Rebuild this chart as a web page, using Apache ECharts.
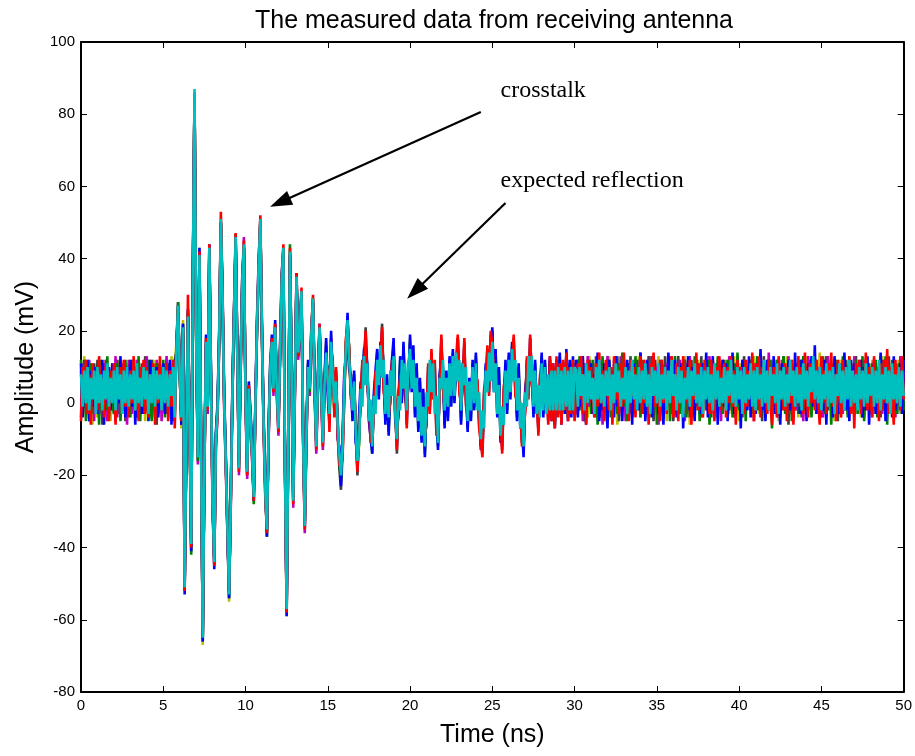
<!DOCTYPE html>
<html><head><meta charset="utf-8">
<script src="https://cdn.jsdelivr.net/npm/echarts@6/dist/echarts.min.js"></script>
<style>html,body{margin:0;padding:0;background:#fff}#c{width:915px;height:756px}</style>
</head><body><div id="c"></div>
<script>
// sampling grid: 0 .. 50 ns, 0.1 ns per sample (501 samples per trace)
const timeStepNs = 0.1;
const xRange = {min: 0, max: 50, interval: 5};
const yRange = {min: -80, max: 100, interval: 20};

const traceYellow = [
10,1,13,-3,8,2,11,-6,9,0,
-4,10,2,9,-1,12,0,8,-5,11,
2,10,-1,12,-4,9,1,11,-2,10,
11,-2,8,1,12,-3,10,0,9,-5,
8,0,11,-1,12,-3,9,2,10,0,
-2,11,0,9,-4,13,-1,10,
17,26,9,-7,23,-52,-11,25,-5,-41,
34,85,19,-14,43,-12,-67,-17,18,0,
44,6,-27,-45,-10,-1,19,50,31,2,
-15,-35,-55,-27,2,25,45,15,-17,10,
34,44,3,-18,5,-3,-13,-26,0,22,
38,50,20,-5,-24,-36,-8,10,18,5,
22,5,-6,15,35,42,-17,-59,-8,41,
10,-26,5,35,15,20,31,-8,-34,-8,
11,5,20,29,5,-11,7,21,5,-10,
6,
17,3,0,19,5,-2,9,-7,-15,-22,
-11,6,13,23,11,7,-3,8,-7,-15,
-12,4,8,14,17,9,-1,-7,-13,1,
5,13,3,16,17,7,-2,6,-7,4,
8,16,-1,-9,-1,11,2,16,4,-3,
7,18,5,15,-2,9,-6,5,-9,2,
-13,-2,7,1,11,5,8,-5,-11,6,
15,8,-5,7,-3,11,1,13,2,10,
16,7,-4,9,14,3,-6,5,-3,10,
0,12,2,-3,-11,-11,0,9,12,6,
16,20,5,13,-2,8,-9,-10,1,10,
-1,12,3,15,15,6,-3,9,-5,-8,
-13,2,9,5,16,9,-2,10,-1,-5,
4,12,-2,10,1,-2,11,-3,9,-5,
10,0,12,-4,9,-1,13,-3,10,-2,
11,-1,
11,-3,8,1,12,-1,9,-4,13,0,
8,2,11,-3,10,0,12,-5,9,1,
13,-2,10,0,8,-6,11,2,9,-1,
12,0,8,-3,11,1,10,-2,13,-4,
9,2,12,-1,8,-4,11,0,10,1,
13,-2,9,0,11,-5,8,1,12,-1,
10,-3,12,2,9,-1,13,0,8,-6,
11,1,9,-2,12,0,10,-3,8,2,
13,-1,11,0,9,-4,12,1,10,-2,
8,0,12,-3,10,1,13,-1,9,-5,
11,2,8,-1,12,0,10,-4,13,1,
9,-3,11,0,10,-1,12,2,8,-2,
12,0,10,-5,9,1,11,-2,13,0,
8,-1,12,1,10,-4,9,0,11,2,
13,-2,10,0,12,-1,8,3,14,-3,
10,1,9,-2,12,0,11,-5,8,1,
12,-1,10,2,9,-3,13,0,11,-2,
9,0,12,-4,10,1,8,-2,11,0,
12,-3,9,1,11,-1,13,0,10,-4,
8,2,11,-1,10,0,12,-3,9,1
];

const traceGray = [
9,-3,12,0,10,-5,8,1,11,-2,
12,-1,9,-6,11,2,10,-2,8,1,
10,0,12,-3,9,2,11,-5,8,-1,
-2,12,1,10,-4,9,0,11,-3,13,
1,10,-3,12,-1,9,-6,11,0,8,
2,10,-3,11,0,9,-5,12,
14,27,10,-3,19,-50,-12,26,-6,-40,
36,85,21,-15,40,-11,-65,-18,16,-2,
42,8,-28,-43,-9,-2,17,50,29,1,
-16,-34,-52,-28,3,24,47,14,-18,9,
33,43,2,-20,4,-4,-14,-25,-1,21,
37,51,18,-6,-23,-35,-9,9,17,4,
21,4,-7,14,33,43,-18,-57,-9,42,
9,-27,4,34,14,19,31,-9,-34,-9,
10,4,19,29,4,-12,6,21,4,-11,
5,
11,10,-4,16,12,-3,5,-5,-18,-24,
-14,1,17,20,16,2,2,4,-6,-20,
-8,1,11,10,21,6,0,-10,-10,-2,
8,10,6,12,22,4,-1,3,-4,1,
11,13,0,-14,2,8,5,12,7,-6,
10,14,8,11,1,6,-3,2,-6,-1,
-10,-5,10,-2,14,2,11,-8,-8,3,
18,5,-2,4,0,8,4,10,5,7,
18,4,-1,6,17,0,-3,2,0,7,
3,9,5,-6,-8,-14,3,6,15,3,
19,17,8,10,1,5,-6,-13,4,7,
2,9,6,12,18,3,0,6,-2,-11,
-10,-1,12,2,18,6,1,7,2,-8,
7,9,1,7,4,-5,12,-4,10,-6,
12,-3,10,-5,11,-1,13,-4,9,-2,
11,-4,
0,12,-2,10,1,-5,9,-1,12,2,
10,-3,13,0,8,-4,11,1,9,-2,
12,1,-3,10,0,13,-5,9,2,11,
-2,10,0,13,-4,9,1,12,-1,8,
11,-3,10,2,13,-1,9,-5,12,0,
9,-3,11,1,13,-2,10,0,8,-5,
11,0,13,-1,9,2,12,-3,10,-4,
12,-1,8,1,11,-3,13,0,9,-2,
10,1,-4,12,0,9,-1,11,3,-3,
12,0,9,-2,11,1,8,-3,13,-1,
10,-4,13,0,9,-1,12,2,8,-3,
11,0,10,-5,13,1,9,-2,12,0,
8,-3,12,1,10,-2,13,0,9,-6,
12,1,9,-2,11,0,10,-4,13,-1,
8,2,12,-3,10,0,11,-1,9,-4,
12,0,13,-2,9,1,10,-3,11,-5,
10,1,8,-2,12,0,11,-3,9,2,
13,-1,10,0,8,-4,12,1,9,-3,
11,0,10,-2,9,-4,12,2,8,-1,
13,-2,9,0,11,-3,10,1,12,0
];

const traceMagenta = [
-4,11,0,9,-2,12,1,8,-5,10,
1,11,-3,9,0,12,-5,8,2,10,
-1,13,-4,9,0,11,-2,8,-6,12,
1,-3,10,0,12,-4,9,2,11,-1,
13,-2,9,0,8,-4,12,1,10,-5,
9,2,13,-1,10,-4,8,1,
15,28,8,-6,21,-51,-14,23,-8,-38,
33,84,20,-17,42,-14,-64,-20,17,-3,
41,4,-30,-44,-12,-4,16,49,28,-1,
-18,-36,-52,-30,0,22,44,12,-20,7,
31,46,0,-21,2,-6,-16,-25,-3,20,
36,49,17,-8,-26,-34,-11,7,15,2,
19,2,-9,12,32,41,-20,-56,-11,40,
7,-29,2,33,12,17,29,-11,-36,-11,
8,2,17,27,2,-14,4,19,2,-13,
3,
12,8,-5,18,6,1,8,-8,-13,-19,
-13,7,14,24,10,6,-4,7,-9,-18,
-9,2,10,11,19,7,-3,-9,-11,-1,
7,11,5,13,20,5,-4,4,-5,2,
10,14,-3,-12,1,9,4,13,6,-5,
9,15,7,12,0,7,-4,3,-7,0,
-11,-4,9,-1,13,3,10,-7,-9,4,
17,6,-3,5,-1,9,3,11,4,8,
18,5,-2,7,16,1,-4,3,-1,8,
2,10,4,-5,-9,-13,2,7,14,4,
18,18,7,11,0,6,-7,-12,3,8,
1,10,5,13,17,4,-1,7,-3,-10,
-11,0,11,3,18,7,0,8,1,-7,
6,10,0,8,3,-4,11,-3,9,-5,
10,0,12,-4,9,-1,13,-3,10,-2,
11,-1,
-3,12,0,9,-5,11,2,13,-1,8,
1,10,-4,12,0,9,-6,11,2,13,
-1,8,-4,12,1,10,-2,13,0,9,
-5,11,1,8,-3,12,0,10,-2,14,
1,9,-4,11,0,13,-2,8,2,10,
-6,12,0,9,-1,11,3,13,-3,8,
0,10,-2,12,1,9,-5,11,-1,13,
2,9,-3,12,0,10,-4,8,1,11,
-1,13,-3,9,0,11,2,8,-5,12,
0,10,-2,13,1,9,-4,11,-1,8,
2,12,-3,10,0,9,-1,13,-5,11,
1,8,-2,12,0,10,-3,14,1,9,
-2,11,0,8,-4,12,1,10,-1,13,
-3,9,1,11,-2,8,0,12,-5,10,
2,13,-1,9,0,11,-3,10,1,12,
-4,8,2,13,-1,10,0,12,-2,9,
1,11,-3,12,0,9,-1,10,2,13,
-2,10,0,8,-4,12,1,11,-1,9,
3,12,-2,10,0,13,-3,9,1,11,
-1,8,2,12,-4,10,0,13,-2,9
];

const traceGreen = [
12,-2,8,-5,10,0,11,-3,9,2,
10,-6,12,1,8,-2,13,-4,9,0,
-3,11,2,9,-5,10,-1,12,0,8,
-4,11,2,9,-1,13,-5,8,0,10,
-2,12,1,-5,9,0,11,-3,10,-1,
12,-4,8,2,11,-2,9,-3,
16,28,7,-3,22,-50,-11,25,-5,-42,
36,85,17,-16,40,-11,-66,-17,16,0,
42,7,-27,-43,-9,-1,19,50,29,2,
-15,-33,-54,-27,3,23,45,13,-17,10,
32,43,3,-18,3,-3,-13,-28,0,21,
37,50,18,-5,-23,-37,-8,10,16,5,
20,5,-6,13,33,42,-17,-56,-8,44,
10,-26,5,34,15,18,30,-8,-33,-8,
11,3,18,28,5,-11,7,20,5,-10,
6,
16,4,-1,15,10,2,3,-4,-16,-21,
-10,3,16,22,14,3,0,8,-10,-17,
-11,5,7,13,16,10,-4,-6,-14,2,
4,14,2,15,18,8,-5,7,-8,5,
7,17,-4,-11,2,12,1,15,3,-2,
6,17,4,14,-3,10,-7,6,-10,3,
-14,-1,6,2,10,6,7,-4,-12,7,
14,9,-6,8,-4,12,0,14,1,11,
15,8,-5,10,13,4,-7,6,-4,11,
-1,13,1,-2,-12,-10,-1,10,11,7,
15,20,4,14,-3,9,-10,-9,0,11,
-2,13,2,16,14,7,-4,10,-6,-7,
-14,3,8,6,15,10,-3,11,-2,-4,
3,13,-3,11,0,-1,12,-4,10,-6,
11,-1,13,-5,10,-2,14,-4,11,-3,
12,-2,
10,-2,13,0,8,-5,11,1,9,-3,
12,-1,9,-6,10,2,13,-2,8,0,
11,-4,9,1,12,-3,10,0,14,-1,
8,-5,11,2,9,-2,13,0,10,-4,
12,1,8,-3,10,-1,13,2,9,-6,
10,0,12,-2,9,1,11,-5,8,2,
13,-1,10,-3,8,0,12,-4,11,1,
9,-2,13,0,10,-5,8,2,11,-1,
12,-6,9,1,10,-2,13,0,8,-3,
10,2,12,-1,9,-4,11,0,14,-2,
8,-1,11,-5,10,2,12,-3,9,0,
13,-2,9,1,11,-4,10,0,12,-7,
9,1,12,-2,10,0,13,-3,8,-1,
11,-5,10,2,9,-3,12,0,13,-2,
10,1,8,-4,11,0,12,-2,9,2,
13,-3,10,0,8,-6,11,1,12,-1,
9,-2,13,0,10,-4,11,2,8,-1,
12,-3,9,1,13,-5,10,0,11,-2,
8,1,12,-4,10,0,11,-2,13,-6,
10,-1,12,1,9,-3,11,0,8,-2
];

const traceBlue = [
11,-4,7,2,12,-5,9,-1,10,3,
-3,9,1,12,-6,8,0,10,-2,11,
4,-5,9,0,13,-2,7,-4,10,1,
12,-1,8,-6,10,2,9,-3,11,0,
7,-5,12,1,9,-2,10,-4,8,3,
11,-3,9,0,12,-6,10,-2,
16,25,10,-6,22,-53,-10,26,-4,-41,
37,85,20,-13,43,-10,-66,-16,19,1,
44,8,-26,-46,-8,0,20,50,32,3,
-14,-36,-54,-26,4,26,45,16,-16,11,
35,43,4,-17,6,-2,-12,-27,1,24,
40,50,21,-4,-22,-37,-7,11,19,6,
23,6,-5,16,36,42,-16,-59,-7,41,
11,-25,6,36,16,21,30,-7,-33,-7,
12,6,21,28,6,-10,8,22,6,-9,
7,
18,2,-6,20,4,3,9,-10,-12,-23,
-9,8,12,25,9,8,-5,9,-11,-13,
-13,6,5,15,16,11,-5,-5,-14,3,
3,15,1,17,16,9,-6,8,-9,6,
6,18,-5,-7,-3,13,0,17,2,-1,
5,19,3,16,-4,11,-8,7,-11,4,
-15,0,5,3,9,7,6,-3,-13,8,
13,10,-7,9,-5,13,-1,15,0,12,
14,9,-6,11,12,5,-8,7,-5,12,
-2,14,0,-1,-13,-9,-2,11,10,8,
14,21,3,15,-4,10,-11,-8,-1,12,
-3,14,1,17,13,8,-5,11,-7,-6,
-15,4,7,7,14,11,-4,12,-3,-3,
2,14,-4,12,-1,0,13,-5,11,-7,
12,-2,14,-6,11,-3,15,-5,12,-4,
13,-3,
12,-4,9,-1,13,3,-6,10,0,11,
-3,8,2,14,-5,9,-2,11,1,-7,
12,0,9,-4,13,-1,8,3,-5,10,
1,12,-3,9,-6,11,2,8,-2,14,
-1,10,-5,12,0,7,-4,13,2,9,
-3,11,1,-6,10,-1,14,3,8,-2,
12,-4,9,1,11,-7,8,0,13,-2,
10,3,-5,12,-1,9,-3,11,2,14,
-4,8,0,13,-2,10,-6,9,1,12,
-1,11,-5,8,3,14,-3,9,0,10,
-7,12,1,9,-2,13,-4,10,2,-3,
11,0,15,-2,8,-5,12,1,9,-1,
13,-3,10,2,-6,11,-1,9,3,12,
-2,8,-4,14,1,10,-3,12,0,9,
-5,11,2,13,-1,16,-3,9,1,10,
-2,12,-6,9,0,11,-4,13,2,8,
-3,10,1,14,-2,9,-5,12,0,11,
-1,9,3,12,-4,10,-2,13,-6,8,
2,11,-3,9,0,14,-1,10,-5,12,
1,9,-4,13,-2,10,0,11,-3,12
];

const traceRed = [
-5,10,1,12,-3,8,-6,11,2,9,
-2,13,0,7,-4,10,3,-5,9,1,
11,-6,8,2,10,-3,12,-1,7,-4,
9,0,13,-2,8,-5,10,1,12,-3,
10,-4,8,2,11,-6,9,0,13,-2,
8,1,11,-5,9,-1,12,-7,
14,26,9,-5,20,-52,-13,30,-7,-40,
34,86,19,-14,42,-13,-64,-19,18,-2,
44,5,-29,-45,-11,-3,17,53,31,0,
-17,-35,-52,-29,1,25,47,15,-19,8,
34,45,1,-20,5,-5,-15,-27,-2,23,
39,52,20,-7,-25,-36,-10,8,18,3,
22,3,-8,15,35,44,-19,-58,-10,43,
8,-28,3,36,13,20,32,-10,-35,-10,
9,5,20,30,3,-13,5,22,3,-12,
4,
10,9,-8,14,11,-4,10,-9,-17,-18,
-15,2,18,21,15,1,1,3,-5,-19,
-7,0,12,9,20,5,1,-11,-9,-3,
9,9,7,11,21,3,0,2,-3,0,
12,12,1,-13,3,7,6,11,8,-7,
11,13,9,10,2,5,-2,1,-5,-2,
-9,-6,11,-3,15,1,12,-9,-7,2,
19,4,-1,3,1,7,5,9,6,6,
19,3,0,5,18,-1,-2,1,1,6,
4,8,6,-7,-7,-15,4,5,16,2,
20,16,9,9,2,4,-5,-14,5,6,
3,8,7,11,19,2,1,5,-1,-12,
-9,-2,13,1,19,5,2,6,3,-9,
8,8,2,6,5,-6,13,-5,11,-7,
13,-4,11,-6,12,-2,14,-5,10,-3,
12,-5,
-5,11,1,13,-3,8,-6,12,0,10,
2,-4,11,-1,14,0,9,-5,12,3,
-2,10,-6,13,1,8,-3,11,-1,14,
0,9,-5,12,2,10,-4,8,1,13,
-3,12,0,9,-6,11,2,14,-1,8,
1,-5,12,0,10,-3,9,2,13,-4,
-1,11,-5,10,2,13,-3,9,0,12,
-6,8,1,14,-2,11,0,-4,12,3,
9,-3,12,1,-5,10,2,13,-2,8,
11,-4,10,0,13,-1,9,-6,12,2,
10,0,-3,12,-1,9,3,14,-5,11,
-2,13,-4,10,1,8,-3,12,0,-6,
10,2,-4,13,1,9,-2,11,-5,10,
0,12,-6,9,2,13,-1,10,-3,14,
2,-4,11,0,9,-2,12,1,-6,13,
0,9,-3,11,2,14,-1,8,-5,12,
1,-4,12,-1,10,2,13,-3,9,-7,
11,0,12,-3,9,1,14,-2,10,0,
-4,13,1,8,-5,11,-2,12,0,15,
-3,10,2,-6,12,0,9,-2,13,1
];

const traceCyan = [
8,-1,9,0,10,-2,7,1,9,-3,
10,0,8,-2,9,1,11,-1,7,0,
9,-2,10,1,8,-3,9,0,10,-1,
8,1,9,-2,11,0,7,-1,10,1,
9,-3,8,0,10,-1,9,1,8,-2,
10,0,9,-1,8,2,10,-4,
15,27,8,-4,21,-51,-12,24,-6,-39,
35,87,18,-15,41,-12,-65,-18,17,-1,
43,6,-28,-44,-10,-2,18,51,30,1,
-16,-34,-53,-28,2,24,46,14,-18,9,
33,44,2,-19,4,-4,-14,-26,-1,22,
38,51,19,-6,-24,-35,-9,9,17,4,
21,4,-7,14,34,43,-18,-57,-9,42,
9,-27,4,35,14,19,31,-9,-34,-9,
10,4,19,29,4,-12,6,21,4,-11,
5,
14,6,-3,17,8,0,6,-6,-14,-20,
-12,5,15,23,12,5,-2,6,-8,-16,
-11,4,-1,13,5,11,-5,1,-12,2,
-3,12,5,16,7,12,-3,5,-4,9,
2,13,-3,-10,2,-2,12,4,11,-2,
11,15,4,12,-1,7,-5,3,-9,-1,
-12,3,-1,12,3,11,-3,2,-11,7,
4,12,-2,7,-1,11,2,13,2,14,
6,12,-2,11,5,10,-5,6,-2,10,
0,11,-2,3,-10,-2,-7,9,3,14,
6,17,3,11,-3,5,-9,-1,-6,9,
0,12,3,15,6,12,-2,7,-7,0,
-12,3,-1,13,6,13,-1,9,-3,5,
-4,11,-2,10,-3,8,-2,9,-2,9,
-2,10,-2,9,-2,10,-1,9,-2,10,
-2,10,
9,-1,10,2,8,-2,11,0,9,1,
7,-3,10,1,12,0,8,-1,9,2,
10,-2,8,0,11,3,9,-1,7,1,
10,-3,9,0,12,1,8,-2,10,0,
9,1,11,-1,8,-3,10,2,9,0,
11,-1,8,1,10,-2,9,0,12,2,
8,-2,10,0,9,-4,7,1,10,-1,
9,2,11,0,8,-1,10,-3,9,1,
10,0,8,-2,11,1,9,-1,7,0,
10,-2,9,2,12,0,8,-1,10,1,
9,-3,10,0,8,1,11,-1,9,-2,
10,1,8,-1,12,0,9,-2,10,2,
8,0,11,-3,9,1,10,-1,8,0,
12,2,9,-1,10,0,8,-2,11,1,
9,-1,10,3,13,1,9,0,10,-2,
8,1,11,-1,9,0,10,-3,8,2,
11,0,9,-2,10,1,12,-1,9,0,
8,-2,10,1,9,-1,11,0,8,2,
10,-1,9,0,12,-2,8,1,10,0,
9,-3,11,1,8,0,10,-1,9,2
];

// drawing order: the last one ends on top
const traces = [
  {name: 'scan 1', color: '#BFBF00', values: traceYellow},
  {name: 'scan 2', color: '#404040', values: traceGray},
  {name: 'scan 3', color: '#BF00BF', values: traceMagenta},
  {name: 'scan 4', color: '#008000', values: traceGreen},
  {name: 'scan 5', color: '#0000FF', values: traceBlue},
  {name: 'scan 6', color: '#FF0000', values: traceRed},
  {name: 'scan 7', color: '#00BFBF', values: traceCyan}
];

// annotations in data coordinates (ns, mV)
const annotationTexts = [
  {text: 'crosstalk', at: [25.5, 86.4]},
  {text: 'expected reflection', at: [25.5, 61.7]}
];
const annotationArrows = [
  [[24.3, 80.6], [12.1, 55.6]],
  [[25.8, 55.4], [20.3, 31.0]]
];

function toPairs(vals) {
  return vals.map((v, i) => [Math.round(i * timeStepNs * 10) / 10, v]);
}

const chart = echarts.init(document.getElementById('c'), null, {renderer: 'canvas'});
const fontSans = '"Liberation Sans", Arial, sans-serif';

const boxAxisX = {
  type: 'value', min: xRange.min, max: xRange.max, interval: xRange.interval,
  splitLine: {show: false},
  axisLine: {show: true, onZero: false, lineStyle: {color: '#000', width: 2}},
  axisTick: {show: true, inside: true, length: 6, lineStyle: {color: '#000', width: 1}}
};
const boxAxisY = {
  type: 'value', min: yRange.min, max: yRange.max, interval: yRange.interval,
  splitLine: {show: false},
  axisLine: {show: true, onZero: false, lineStyle: {color: '#000', width: 2}},
  axisTick: {show: true, inside: true, length: 6, lineStyle: {color: '#000', width: 1}}
};

const series = traces.map((tr, k) => {
  const s = {
    name: tr.name, type: 'line', data: toPairs(tr.values),
    xAxisIndex: 0, yAxisIndex: 0,
    showSymbol: false, symbol: 'none', silent: true,
    lineStyle: {color: tr.color, width: 2.6, join: 'miter', miterLimit: 4},
    itemStyle: {color: tr.color},
    emphasis: {disabled: true},
    animation: false, z: 2
  };
  if (k === traces.length - 1) {
    s.markLine = {
      silent: true, animation: false,
      symbol: ['none', 'triangle'], symbolSize: [15, 22],
      lineStyle: {color: '#000', width: 2.2, type: 'solid'},
      label: {show: false},
      emphasis: {disabled: true},
      data: annotationArrows.map(a => [{coord: a[0]}, {coord: a[1]}])
    };
  }
  return s;
});

const option = {
  backgroundColor: '#fff',
  animation: false,
  title: {
    text: 'The measured data from receiving antenna',
    left: 489, top: 4, textAlign: 'center',
    textStyle: {fontFamily: fontSans, fontSize: 25, fontWeight: 'normal', color: '#000'}
  },
  grid: {left: 81, right: 10, top: 42, bottom: 64, containLabel: false},
  xAxis: [
    Object.assign({}, boxAxisX, {
      position: 'bottom',
      name: 'Time (ns)', nameLocation: 'middle', nameGap: 31,
      nameTextStyle: {fontFamily: fontSans, fontSize: 25, color: '#000'},
      axisLabel: {show: true, margin: 6, fontFamily: fontSans, fontSize: 15, color: '#000'}
    }),
    Object.assign({}, boxAxisX, {position: 'top', axisLabel: {show: false}})
  ],
  yAxis: [
    Object.assign({}, boxAxisY, {
      position: 'left',
      name: 'Amplitude (mV)', nameLocation: 'middle', nameGap: 42,
      nameTextStyle: {fontFamily: fontSans, fontSize: 25, color: '#000'},
      axisLabel: {show: true, margin: 6, fontFamily: fontSans, fontSize: 15, color: '#000'}
    }),
    Object.assign({}, boxAxisY, {position: 'right', axisLabel: {show: false}})
  ],
  series: series
};

chart.setOption(option);

const graphics = annotationTexts.map(a => {
  const p = chart.convertToPixel({xAxisIndex: 0, yAxisIndex: 0}, a.at);
  return {
    type: 'text', x: p[0], y: p[1], z: 100, silent: true,
    style: {text: a.text, fill: '#000', font: '24px "Liberation Serif", "Times New Roman", serif',
            textAlign: 'left', textVerticalAlign: 'middle'}
  };
});
chart.setOption({graphic: graphics});
</script>
</body></html>
